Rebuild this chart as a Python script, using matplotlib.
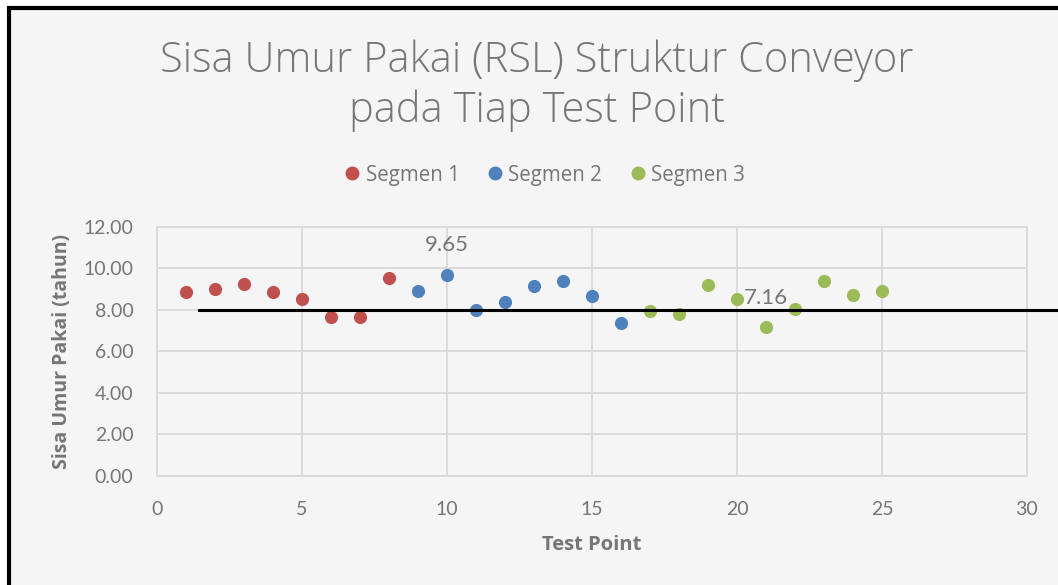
import matplotlib
matplotlib.use("Agg")
import matplotlib.pyplot as plt
from matplotlib.patches import Rectangle
from matplotlib.lines import Line2D

# Data
seg1_x = [1, 2, 3, 4, 5, 6, 7, 8]
seg1_y = [8.85, 9.01, 9.23, 8.87, 8.51, 7.65, 7.63, 9.54]
seg2_x = [9, 10, 11, 12, 13, 14, 15, 16]
seg2_y = [8.88, 9.65, 8.00, 8.38, 9.15, 9.38, 8.66, 7.37]
seg3_x = [17, 18, 19, 20, 21, 22, 23, 24, 25]
seg3_y = [7.95, 7.77, 9.17, 8.53, 7.16, 8.05, 9.39, 8.70, 8.89]
series_names = ["Segmen 1", "Segmen 2", "Segmen 3"]
ref_x = [1.45, 31.0]
ref_y = [8.0, 8.0]
yticks = [0, 2, 4, 6, 8, 10, 12]
xticks = [0, 5, 10, 15, 20, 25, 30]

colors = ["#C0504D", "#4F81BD", "#9BBB59"]
gray = "#767676"
font = "Lato"
tfont = "Open Sans"

W, H = 1058, 585
fig = plt.figure(figsize=(W / 100, H / 100), dpi=100)
fig.patch.set_facecolor("white")

# chart area with black border (top/left visible)
fig.patches.append(Rectangle((9 / W, -0.2), 1.2, 1.2 - 8 / H, transform=fig.transFigure,
                             facecolor="#f5f5f5", edgecolor="black", linewidth=3,
                             zorder=-5))

ax = fig.add_axes([157 / W, 1 - 476 / H, (1027 - 157) / W, (476 - 226.5) / H])
ax.set_facecolor("none")
ax.set_xlim(0, 30)
ax.set_ylim(0, 12)
ax.set_xticks(xticks)
ax.set_yticks(yticks)
ax.set_yticklabels([f"{v:.2f}" for v in yticks])
ax.grid(True, color="#d9d9d9", linewidth=1.3)
ax.set_axisbelow(True)
for s in ax.spines.values():
    s.set_color("#d9d9d9")
    s.set_linewidth(1.3)
ax.tick_params(length=0, labelsize=14, labelcolor=gray)
ax.tick_params(axis="x", pad=18)
ax.tick_params(axis="y", pad=17)
for lbl in ax.get_xticklabels() + ax.get_yticklabels():
    lbl.set_fontfamily(font)

msize = 90
ax.scatter(seg1_x, seg1_y, s=msize, color=colors[0], zorder=3, linewidths=0)
ax.scatter(seg2_x, seg2_y, s=msize, color=colors[1], zorder=3, linewidths=0)
ax.scatter(seg3_x, seg3_y, s=msize, color=colors[2], zorder=3, linewidths=0)

ax.plot(ref_x, ref_y, color="black", linewidth=2.2, clip_on=False, zorder=4)

# data labels
ax.annotate(f"{seg2_y[1]:.2f}", (seg2_x[1], seg2_y[1]), xytext=(0, 21.5),
            textcoords="offset points", ha="center", va="center",
            fontsize=16, color=gray, family=font)
ax.annotate(f"{seg3_y[4]:.2f}", (seg3_x[4], seg3_y[4]), xytext=(0, 21),
            textcoords="offset points", ha="center", va="center",
            fontsize=16, color=gray, family=font, zorder=5)

ax.set_xlabel("Test Point", fontsize=14.5, fontweight="bold", color=gray,
              family=tfont, labelpad=12)
ax.set_ylabel("Sisa Umur Pakai (tahun)", fontsize=14, fontweight="bold",
              color=gray, family=tfont, labelpad=8)

fig.text(537 / W, 1 - 86 / H, "Sisa Umur Pakai (RSL) Struktur Conveyor\npada Tiap Test Point",
         ha="center", va="center", fontsize=30, color=gray, family=tfont,
         fontweight="light", linespacing=1.22)

handles = [Line2D([], [], marker="o", linestyle="", color=c, markersize=9)
           for c in colors]
leg = fig.legend(handles, series_names, loc="center", bbox_to_anchor=(541 / W, 1 - 175 / H),
                 ncol=3, frameon=False, handletextpad=-0.1, handlelength=1.5,
                 columnspacing=0.97, prop={"family": tfont, "size": 14.8})
for t in leg.get_texts():
    t.set_color(gray)

fig.savefig("out.png", dpi=100)
